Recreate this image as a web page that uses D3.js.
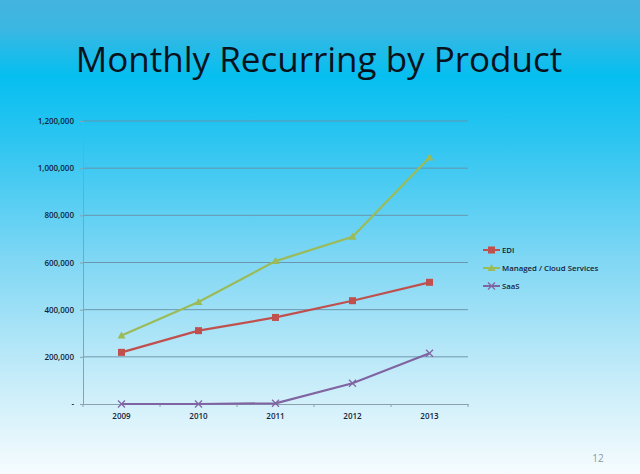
<!DOCTYPE html>
<html><head><meta charset="utf-8">
<script src="https://cdn.jsdelivr.net/npm/d3@7/dist/d3.min.js"></script>
<style>html,body{margin:0;padding:0;overflow:hidden;}svg{display:block;}</style>
</head><body>
<script>
const years = ["2009","2010","2011","2012","2013"];
const edi = [219000, 311000, 367000, 438000, 516000];
const managed = [290000, 433000, 606000, 709000, 1045000];
const saas = [0, 0, 3000, 88000, 215000];
const seriesNames = ["EDI", "Managed / Cloud Services", "SaaS"];
const seriesColors = ["#c0504d", "#9bbb59", "#8064a2"];
const yTicks = [0, 200000, 400000, 600000, 800000, 1000000, 1200000];
const titleText = "Monthly Recurring by Product";
const pageNum = "12";

const W = 640, H = 474;
const svg = d3.select("body").append("svg").attr("width", W).attr("height", H);
const defs = svg.append("defs");
const grad = defs.append("linearGradient").attr("id","bg").attr("x1",0).attr("y1",0).attr("x2",0).attr("y2",1);
[[0,"#43b4df"],[0.06,"#3bb7e2"],[0.16,"#05bff0"],[0.3,"#2ec5f1"],[0.55,"#80d7f4"],[0.8,"#c6ecf9"],[1,"#f6fcfe"]]
  .forEach(([o,c]) => grad.append("stop").attr("offset",o).attr("stop-color",c));
svg.append("rect").attr("width",W).attr("height",H).attr("fill","url(#bg)");

svg.append("text").attr("x", 319).attr("y", 72).attr("text-anchor","middle")
  .attr("font-family","'Open Sans', sans-serif").attr("font-size", 35).attr("font-weight",500)
  .attr("fill","#08121c").text(titleText);

const pLeft = 83, pRight = 468, pTop = 121, pBottom = 404;
const x = d3.scaleBand().domain(years).range([pLeft, pRight]);
const y = d3.scaleLinear().domain([0, 1200000]).range([pBottom, pTop]);

// gridlines
svg.append("g").selectAll("line").data(yTicks.filter(d=>d>0)).join("line")
  .attr("x1", pLeft).attr("x2", pRight).attr("y1", d=>y(d)).attr("y2", d=>y(d))
  .attr("stroke","#6890a6").attr("stroke-width",0.9);

const tickFont = {family:"'Open Sans', sans-serif", size:8, weight:600, fill:"#14223a"};

// y axis
const yAxis = d3.axisLeft(y).tickValues(yTicks).tickSize(3)
  .tickFormat(d => d === 0 ? "-" : d3.format(",")(d));
const gy = svg.append("g").attr("transform",`translate(${pLeft},0)`).call(yAxis);
gy.select(".domain").attr("stroke","#8aa0ac");
gy.selectAll(".tick line").attr("stroke","#8aa0ac");
gy.selectAll("text").attr("font-family",tickFont.family).attr("font-size",tickFont.size)
  .attr("font-weight",tickFont.weight).attr("fill",tickFont.fill).attr("x",-9);

// x axis
const xAxis = d3.axisBottom(x).tickSize(0);
const gx = svg.append("g").attr("transform",`translate(0,${pBottom})`).call(xAxis);
gx.select(".domain").attr("stroke","#8aa0ac");
gx.selectAll("text").attr("font-family",tickFont.family).attr("font-size",tickFont.size)
  .attr("font-weight",tickFont.weight).attr("fill",tickFont.fill).attr("dy","1.5em");
gx.append("g").selectAll("line").data(years.concat(["end"])).join("line")
  .attr("x1",(d,i)=>pLeft + i*x.step()).attr("x2",(d,i)=>pLeft + i*x.step())
  .attr("y1",0).attr("y2",3).attr("stroke","#8aa0ac");

const allSeries = [edi, managed, saas];
const line = d3.line().x((d,i)=>x(years[i]) + x.bandwidth()/2).y(d=>y(d));
allSeries.forEach((vals, si) => {
  svg.append("path").datum(vals).attr("d", line).attr("fill","none")
    .attr("stroke", seriesColors[si]).attr("stroke-width", 2.2);
});

function marker(g, si, cx, cy) {
  const c = seriesColors[si];
  if (si === 0) {
    g.append("rect").attr("x",cx-3.5).attr("y",cy-3.5).attr("width",7).attr("height",7).attr("fill",c);
  } else if (si === 1) {
    g.append("path").attr("d",`M${cx},${cy-4}L${cx+4},${cy+3}L${cx-4},${cy+3}Z`).attr("fill",c);
  } else {
    g.append("path").attr("d",`M${cx-3.5},${cy-3.5}L${cx+3.5},${cy+3.5}M${cx+3.5},${cy-3.5}L${cx-3.5},${cy+3.5}`)
      .attr("stroke",c).attr("stroke-width",1.2);
  }
}
const mg = svg.append("g");
allSeries.forEach((vals, si) => vals.forEach((v,i) => marker(mg, si, x(years[i]) + x.bandwidth()/2, y(v))));

// legend
const lg = svg.append("g");
seriesNames.forEach((n, si) => {
  const ly = 250 + si*18;
  lg.append("line").attr("x1",483).attr("x2",500).attr("y1",ly).attr("y2",ly)
    .attr("stroke",seriesColors[si]).attr("stroke-width",2);
  marker(lg, si, 491.5, ly);
  lg.append("text").attr("x",502).attr("y",ly+3).attr("font-family",tickFont.family)
    .attr("font-size",7.8).attr("font-weight",600).attr("fill",tickFont.fill).text(n);
});

svg.append("text").attr("x",598).attr("y",462).attr("text-anchor","middle")
  .attr("font-family","'Open Sans', sans-serif").attr("font-size",10).attr("fill","#8a9aa5").text(pageNum);
</script>
</body></html>
